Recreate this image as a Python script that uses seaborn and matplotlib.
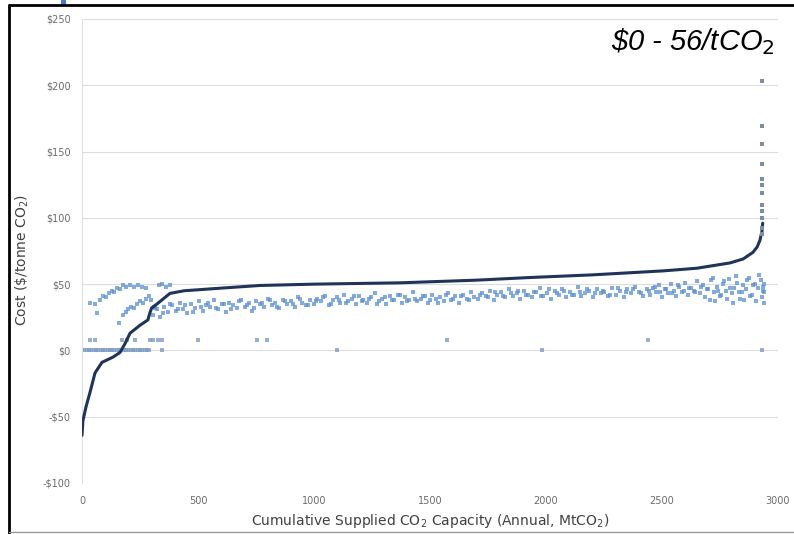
import matplotlib
matplotlib.use("Agg")
import matplotlib.pyplot as plt
from matplotlib.lines import Line2D
from matplotlib.patches import Rectangle
import seaborn as sns
import pandas as pd

# ---------------- data ----------------
# supply curve (dark line)
curve_x = [0, 4, 18, 34, 56, 86, 134, 164, 185, 207, 250, 284, 292, 300, 323,
           379, 409, 440, 600, 767, 1000, 1371, 1700, 1931, 2200, 2504, 2650,
           2793, 2850, 2892, 2910, 2922, 2931, 2934]
curve_y = [-64, -53, -42, -32, -17, -9, -5, -1.5, 5, 13, 19, 23, 28, 32, 35,
           43, 44, 45, 47, 49, 50, 51, 53, 55, 57, 60, 62,
           66, 69, 74, 78, 83, 90, 96]
# high-cost tail points at the end of the curve
tail_x = [2933, 2933, 2933, 2933, 2933, 2933, 2933, 2933, 2933, 2933, 2933, 2933]
tail_y = [203, 169, 156, 141, 129, 125, 119, 110, 105, 100, 92, 88]

# light-blue scatter band, by segment
band_a_x = [305, 322, 338, 355, 371, 388, 404, 421, 437, 454, 470, 487, 503, 520,
            536, 553, 569, 586, 602, 619, 635, 652, 668, 685, 701, 718, 734, 751,
            767, 784, 800, 817, 833, 850, 866, 883, 899, 916, 932, 949, 965, 982]
band_a_y = [27, 31, 25, 33, 29, 34, 30, 36, 31, 28, 35, 32, 37, 30,
            34, 33, 38, 31, 35, 29, 36, 34, 32, 38, 33, 36, 30, 37,
            35, 33, 39, 34, 36, 32, 38, 35, 37, 33, 40, 36, 34, 38]
band_b_x = [998, 1015, 1031, 1048, 1064, 1081, 1097, 1114, 1130, 1147, 1163, 1180,
            1196, 1213, 1229, 1246, 1262, 1279, 1295, 1312, 1328, 1345, 1361, 1378,
            1394, 1411, 1427, 1444, 1460, 1477, 1493, 1510, 1526, 1543, 1559, 1576,
            1592, 1609, 1625, 1642, 1658, 1675, 1691]
band_b_y = [35, 39, 37, 41, 34, 38, 40, 36, 42, 37, 39, 35,
            41, 38, 36, 40, 43, 37, 39, 35, 41, 38, 42, 36,
            40, 38, 44, 37, 39, 41, 36, 42, 39, 40, 37, 43,
            38, 41, 36, 42, 39, 44, 40]
band_c_x = [1708, 1724, 1741, 1757, 1774, 1790, 1807, 1823, 1840, 1856, 1873, 1889,
            1906, 1922, 1939, 1955, 1972, 1988, 2005, 2021, 2038, 2054, 2071, 2087,
            2104, 2120, 2137, 2153, 2170, 2186, 2203, 2219, 2236, 2252, 2269, 2285,
            2302, 2318, 2335, 2351, 2368, 2384, 2401, 2417, 2434]
band_c_y = [39, 43, 41, 45, 38, 42, 44, 40, 46, 41, 43, 39,
            45, 42, 40, 44, 47, 41, 43, 39, 45, 42, 46, 40,
            44, 42, 48, 41, 43, 45, 40, 46, 43, 44, 41, 47,
            42, 45, 40, 46, 43, 48, 44, 41, 46]
band_d_x = [2450, 2462, 2475, 2487, 2500, 2512, 2525, 2537, 2550, 2562, 2575, 2587,
            2600, 2612, 2625, 2637, 2650, 2662, 2675, 2687, 2700, 2712, 2725, 2737,
            2750, 2762, 2775, 2787, 2800, 2812, 2825, 2837, 2850, 2862, 2875, 2887,
            2900, 2912, 2925, 2937]
band_d_y = [42, 47, 44, 49, 40, 46, 43, 50, 45, 41, 48, 44,
            51, 42, 47, 45, 52, 43, 49, 40, 46, 53, 44, 48,
            41, 50, 45, 54, 43, 47, 51, 39, 49, 46, 55, 42,
            50, 47, 53, 45]
band_e_x = [2705, 2730, 2755, 2780, 2805, 2830, 2855, 2880, 2905, 2930,
            2718, 2768, 2818, 2868, 2918, 2940, 2940, 2940, 2935]
band_e_y = [38, 37, 42, 39, 36, 44, 38, 41, 37, 40,
            55, 52, 56, 53, 57, 50, 44, 36, 48]
band_f_x = [314, 347, 380, 413, 446, 479, 512, 545, 578, 611, 644, 677, 710, 743,
            776, 809, 842, 875, 908, 941, 974, 1007, 1040, 1073, 1106, 1139, 1172,
            1205, 1238, 1271, 1304, 1337, 1370, 1403, 1436, 1469, 1502, 1535, 1568,
            1601, 1634, 1667]
band_f_y = [32, 28, 35, 31, 34, 29, 33, 36, 32, 35, 31, 37, 34, 32,
            36, 38, 33, 37, 35, 39, 34, 37, 40, 35, 38, 36, 41,
            37, 39, 35, 40, 38, 42, 37, 39, 41, 38, 36, 42,
            39, 41, 38]
band_g_x = [1716, 1749, 1782, 1815, 1848, 1881, 1914, 1947, 1980, 2013, 2046, 2079,
            2112, 2145, 2178, 2211, 2244, 2277, 2310, 2343, 2376, 2409, 2442, 2468,
            2493, 2518, 2543, 2568, 2593, 2618, 2643, 2668, 2693, 2743, 2793, 2843,
            2893]
band_g_y = [42, 40, 44, 41, 43, 45, 42, 44, 41, 46, 43, 45,
            42, 44, 46, 43, 45, 42, 47, 44, 46, 43, 45, 48,
            44, 46, 43, 49, 45, 47, 44, 48, 46, 45, 47, 44,
            49]
early_x = [35, 56, 64, 78, 90, 102, 115, 128, 140, 152, 165, 178, 190, 205, 222,
           240, 258, 275, 330, 345, 362, 378]
early_y = [36, 35, 28, 38, 41, 40, 43, 45, 44, 47, 46, 49, 48, 49, 48,
           49, 48, 47, 49, 50, 48, 49]
rise_x = [160, 175, 188, 200, 212, 225, 238, 250, 262, 275, 288, 298, 312]
rise_y = [21, 27, 29, 31, 33, 32, 35, 37, 36, 39, 41, 38, 33]
zero_x = [0, 10, 20, 30, 40, 50, 60, 70, 80, 90, 100, 110, 120, 130, 140, 150,
          160, 170, 180, 190, 200, 210, 220, 230, 240, 250, 260, 270, 280, 290,
          345, 1099, 1983, 2931]
zero_y = [0, 0, 0, 0, 0, 0, 0, 0, 0, 0, 0, 0, 0, 0, 0, 0,
          0, 0, 0, 0, 0, 0, 0, 0, 0, 0, 0, 0, 0, 0,
          0, 0, 0, 0]
eight_x = [34, 56, 172, 194, 228, 293, 306, 328, 345, 500, 754, 797, 1573, 2440]
eight_y = [8, 8, 8, 8, 8, 8, 8, 8, 8, 8, 8, 8, 8, 8]

x_ticks = [0, 500, 1000, 1500, 2000, 2500, 3000]
y_ticks = [-100, -50, 0, 50, 100, 150, 200, 250]
y_tick_labels = ["-$100", "-$50", "$0", "$50", "$100", "$150", "$200", "$250"]

# ---------------- figure ----------------
sns.set_style("white")
plt.rcParams['font.family'] = ['DejaVu Sans']

W, H = 794, 534
fig = plt.figure(figsize=(W / 100, H / 100), dpi=100)
ax = fig.add_axes([82 / W, 1 - 483 / H, (778 - 82) / W, (483 - 19) / H])

light = pd.DataFrame({
    "x": band_a_x + band_b_x + band_c_x + band_d_x + band_e_x + band_f_x + band_g_x
         + early_x + rise_x,
    "y": band_a_y + band_b_y + band_c_y + band_d_y + band_e_y + band_f_y + band_g_y
         + early_y + rise_y,
})
flat = pd.DataFrame({"x": zero_x + eight_x, "y": zero_y + eight_y})
curve = pd.DataFrame({"x": curve_x, "y": curve_y})
tail = pd.DataFrame({"x": tail_x, "y": tail_y})

sns.scatterplot(data=light, x="x", y="y", ax=ax, color="#5B8FD3", s=11,
                marker="s", linewidth=0, alpha=0.75, zorder=2)
sns.scatterplot(data=flat, x="x", y="y", ax=ax, color="#7F9CC4", s=7,
                marker="s", linewidth=0, alpha=0.8, zorder=2)
sns.lineplot(data=curve, x="x", y="y", ax=ax, sort=False, color="#1F3458",
             linewidth=2.2, zorder=3)
sns.scatterplot(data=tail, x="x", y="y", ax=ax, color="#7C8DA8", s=7,
                marker="s", linewidth=0, zorder=3)

ax.set_xlim(0, 3000)
ax.set_ylim(-100, 250)
ax.set_xticks(x_ticks)
ax.set_xticklabels([str(t) for t in x_ticks])
ax.set_yticks(y_ticks)
ax.set_yticklabels(y_tick_labels)
ax.tick_params(axis="both", length=0, labelsize=7, colors="#6b6b6b")
ax.tick_params(axis="x", pad=9)
ax.tick_params(axis="y", pad=8)
ax.grid(axis="y", color="#dcdcdc", linewidth=0.8)
ax.grid(axis="x", visible=False)
for side in ["top", "right", "bottom"]:
    ax.spines[side].set_visible(False)
ax.spines["left"].set_color("#e0e0e0")
ax.spines["left"].set_linewidth(0.8)

ax.set_xlabel("Cumulative Supplied CO$_2$ Capacity (Annual, MtCO$_2$)",
              fontsize=10, color="#404040")
ax.set_ylabel("Cost (\\$/tonne CO$_2$)", fontsize=10, color="#404040")
ax.xaxis.set_label_coords(0.5, -0.062)
ax.yaxis.set_label_coords(-0.073, 0.48)

fig.text(775 / W, 1 - 50 / H, "\\$0 - 56/tCO$_2$", ha="right", va="baseline",
         fontsize=21, style="italic", family="Liberation Sans", color="black")

# frame decorations
fig.add_artist(Line2D([9 / W, 9 / W], [0, 1 - 5 / H], transform=fig.transFigure,
                      color="black", linewidth=2))
fig.add_artist(Line2D([9 / W, 1], [1 - 5 / H, 1 - 5 / H], transform=fig.transFigure,
                      color="black", linewidth=2))
fig.add_artist(Line2D([9 / W, 1], [2 / H, 2 / H], transform=fig.transFigure,
                      color="#9a9a9a", linewidth=1))
fig.add_artist(Rectangle((61 / W, 1 - 5 / H), 5 / W, 5 / H, transform=fig.transFigure,
                         color="#4A7BC8", linewidth=0))

fig.savefig("out.png", dpi=100)
